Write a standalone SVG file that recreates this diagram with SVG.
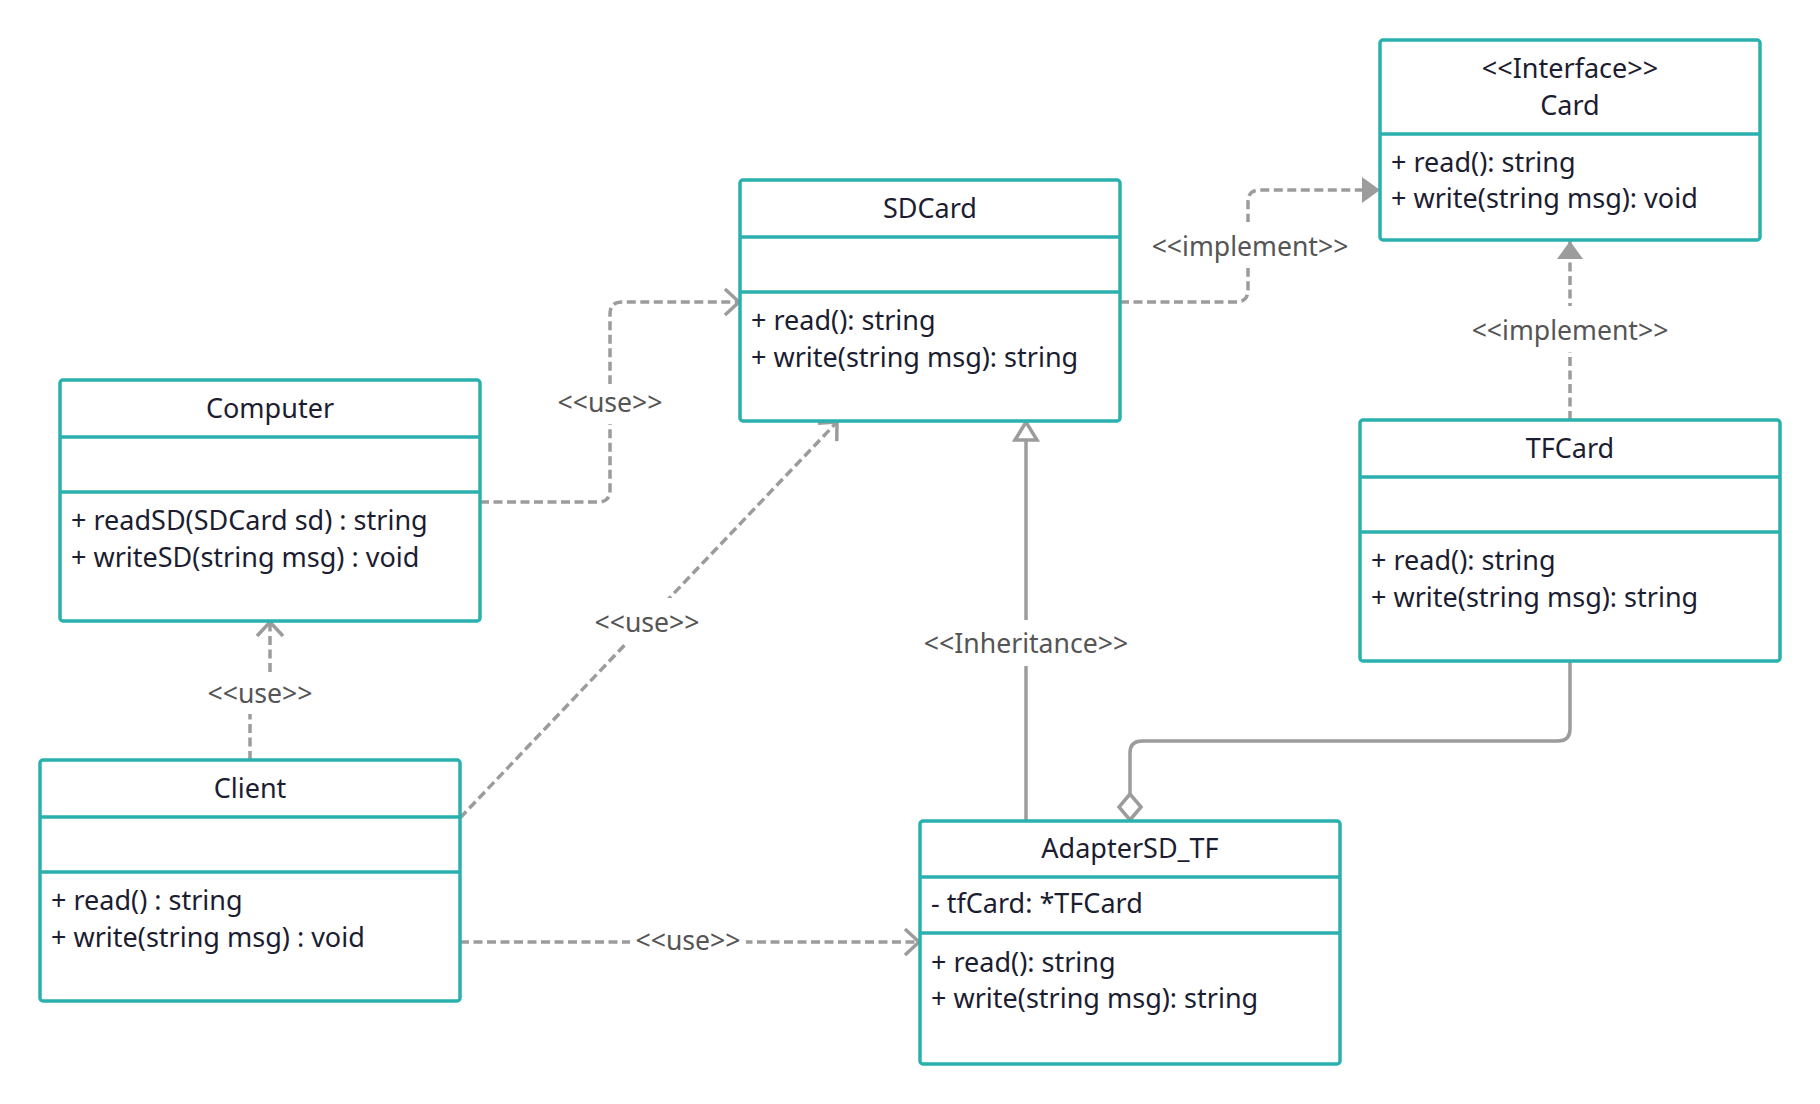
<svg xmlns="http://www.w3.org/2000/svg" width="1820" height="1104" viewBox="0 0 1820 1104">
  <style>
    .box { fill: #ffffff; stroke: #2ab1ad; stroke-width: 3.5; }
    .div { stroke: #2ab1ad; stroke-width: 3.5; }
    .t { font-family: "Noto Sans", "Open Sans", sans-serif; font-size: 27px; fill: #1c1d30; }
    .c { text-anchor: middle; }
    .dash { fill: none; stroke: #9c9c9c; stroke-width: 3.5; stroke-dasharray: 9 4.5; }
    .solid { fill: none; stroke: #9c9c9c; stroke-width: 3.5; }
    .lbl { font-family: "Noto Sans", "Open Sans", sans-serif; font-size: 26.6px; fill: #555555; text-anchor: middle; }
    .lblbg { fill: #ffffff; }
  </style>
  <defs>
    <marker id="open" markerUnits="userSpaceOnUse" markerWidth="40" markerHeight="40" viewBox="-20 -20 40 40" refX="0" refY="0" orient="auto">
      <path d="M -14 -13 L 0 0 L -14 13" fill="none" stroke="#9c9c9c" stroke-width="3.5"/>
    </marker>
    <marker id="realize" markerUnits="userSpaceOnUse" markerWidth="40" markerHeight="40" viewBox="-20 -20 40 40" refX="0" refY="0" orient="auto">
      <path d="M -18 -13 L 0 0 L -18 13 Z" fill="#9c9c9c"/>
    </marker>
    <marker id="inherit" markerUnits="userSpaceOnUse" markerWidth="40" markerHeight="40" viewBox="-20 -20 40 40" refX="0" refY="0" orient="auto">
      <path d="M -18 -11 L 0 0 L -18 11 Z" fill="#ffffff" stroke="#9c9c9c" stroke-width="3.5"/>
    </marker>
    <marker id="aggr" markerUnits="userSpaceOnUse" markerWidth="40" markerHeight="40" viewBox="-35 -20 40 40" refX="0" refY="0" orient="auto">
      <path d="M 0 0 L -13 -11 L -26 0 L -13 11 Z" fill="#ffffff" stroke="#9c9c9c" stroke-width="3.5"/>
    </marker>
  </defs>

  <rect width="1820" height="1104" fill="#ffffff"/>

  <!-- relationships -->
  <g id="connectors">
    <!-- Computer uses SDCard -->
    <path class="dash" d="M 480 502 H 598 Q 610 502 610 490 V 314 Q 610 302 622 302 H 739" marker-end="url(#open)"/>
    <rect class="lblbg" x="556" y="384" width="108" height="40"/>
    <text class="lbl" x="610" y="412">&lt;&lt;use&gt;&gt;</text>

    <!-- SDCard implements Card -->
    <path class="dash" d="M 1120 302 H 1236 Q 1248 302 1248 290 V 202 Q 1248 190 1260 190 H 1380" marker-end="url(#realize)"/>
    <rect class="lblbg" x="1150" y="222" width="200" height="46"/>
    <text class="lbl" x="1250" y="256">&lt;&lt;implement&gt;&gt;</text>

    <!-- TFCard implements Card -->
    <path class="dash" d="M 1570 420 V 241" marker-end="url(#realize)"/>
    <rect class="lblbg" x="1470" y="306" width="200" height="46"/>
    <text class="lbl" x="1570" y="340">&lt;&lt;implement&gt;&gt;</text>

    <!-- AdapterSD_TF extends SDCard -->
    <path class="solid" d="M 1026 821 V 422" marker-end="url(#inherit)"/>
    <rect class="lblbg" x="916" y="620" width="220" height="46"/>
    <text class="lbl" x="1026" y="653">&lt;&lt;Inheritance&gt;&gt;</text>

    <!-- AdapterSD_TF holds a TFCard -->
    <path class="solid" d="M 1570 661 V 729 Q 1570 741 1558 741 H 1142 Q 1130 741 1130 753 V 820" marker-end="url(#aggr)"/>

    <!-- Client uses Computer -->
    <path class="dash" d="M 250 760 V 692 H 270 V 622" marker-end="url(#open)"/>
    <rect class="lblbg" x="204" y="674" width="112" height="40"/>
    <text class="lbl" x="260" y="703">&lt;&lt;use&gt;&gt;</text>

    <!-- Client uses SDCard -->
    <path class="dash" d="M 460 818 L 837 422" marker-end="url(#open)"/>
    <rect class="lblbg" x="591" y="598" width="112" height="46"/>
    <text class="lbl" x="647" y="632">&lt;&lt;use&gt;&gt;</text>

    <!-- Client uses AdapterSD_TF -->
    <path class="dash" d="M 460 942 H 919" marker-end="url(#open)"/>
    <rect class="lblbg" x="630" y="922" width="116" height="38"/>
    <text class="lbl" x="688" y="950">&lt;&lt;use&gt;&gt;</text>
  </g>

  <!-- interface Card -->
  <g id="card">
    <rect class="box" x="1380" y="40" width="380" height="200" rx="3"/>
    <line class="div" x1="1380" y1="134" x2="1760" y2="134"/>
    <text class="t c" x="1570" y="78">&lt;&lt;Interface&gt;&gt;</text>
    <text class="t c" x="1570" y="115">Card</text>
    <text class="t" x="1391" y="172">+ read(): string</text>
    <text class="t" x="1391" y="208">+ write(string msg): void</text>
  </g>

  <!-- class SDCard -->
  <g id="sdcard">
    <rect class="box" x="740" y="180" width="380" height="241" rx="3"/>
    <line class="div" x1="740" y1="237" x2="1120" y2="237"/>
    <line class="div" x1="740" y1="292" x2="1120" y2="292"/>
    <text class="t c" x="930" y="218">SDCard</text>
    <text class="t" x="751" y="330">+ read(): string</text>
    <text class="t" x="751" y="367">+ write(string msg): string</text>
  </g>

  <!-- class Computer -->
  <g id="computer">
    <rect class="box" x="60" y="380" width="420" height="241" rx="3"/>
    <line class="div" x1="60" y1="437" x2="480" y2="437"/>
    <line class="div" x1="60" y1="492" x2="480" y2="492"/>
    <text class="t c" x="270" y="418">Computer</text>
    <text class="t" x="71" y="530">+ readSD(SDCard sd) : string</text>
    <text class="t" x="71" y="567">+ writeSD(string msg) : void</text>
  </g>

  <!-- class Client -->
  <g id="client">
    <rect class="box" x="40" y="760" width="420" height="241" rx="3"/>
    <line class="div" x1="40" y1="817" x2="460" y2="817"/>
    <line class="div" x1="40" y1="872" x2="460" y2="872"/>
    <text class="t c" x="250" y="798">Client</text>
    <text class="t" x="51" y="910">+ read() : string</text>
    <text class="t" x="51" y="947">+ write(string msg) : void</text>
  </g>

  <!-- class TFCard -->
  <g id="tfcard">
    <rect class="box" x="1360" y="420" width="420" height="241" rx="3"/>
    <line class="div" x1="1360" y1="477" x2="1780" y2="477"/>
    <line class="div" x1="1360" y1="532" x2="1780" y2="532"/>
    <text class="t c" x="1570" y="458">TFCard</text>
    <text class="t" x="1371" y="570">+ read(): string</text>
    <text class="t" x="1371" y="607">+ write(string msg): string</text>
  </g>

  <!-- class AdapterSD_TF -->
  <g id="adapter">
    <rect class="box" x="920" y="821" width="420" height="243" rx="3"/>
    <line class="div" x1="920" y1="877" x2="1340" y2="877"/>
    <line class="div" x1="920" y1="933" x2="1340" y2="933"/>
    <text class="t c" x="1130" y="858">AdapterSD_TF</text>
    <text class="t" x="931" y="913">- tfCard: *TFCard</text>
    <text class="t" x="931" y="972">+ read(): string</text>
    <text class="t" x="931" y="1008">+ write(string msg): string</text>
  </g>
</svg>
